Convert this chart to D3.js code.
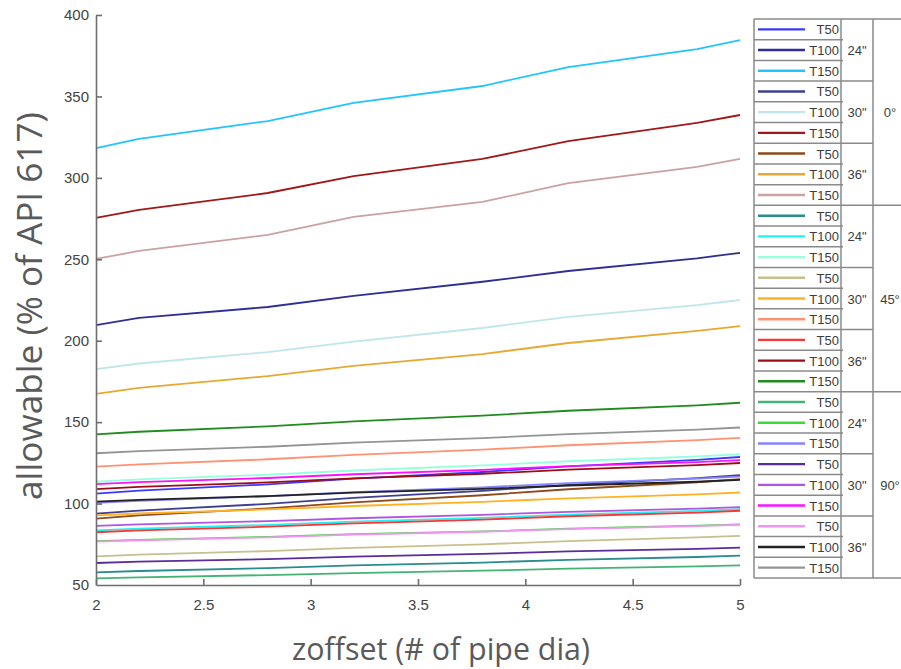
<!DOCTYPE html>
<html>
<head>
<meta charset="utf-8">
<script src="https://cdn.jsdelivr.net/npm/d3@7"></script>
<style>
  html, body { margin: 0; padding: 0; background: #ffffff; }
  svg { display: block; }
</style>
</head>
<body>
<svg id="chart" width="901" height="669"></svg>
<script>
// Offset positions along the pipe (# of pipe diameters)
const xValues = [2, 2.2, 2.8, 3.2, 3.8, 4.2, 4.8, 5];
const xTicks = [2, 2.5, 3, 3.5, 4, 4.5, 5];
const yTicks = [50, 100, 150, 200, 250, 300, 350, 400];

const angles = ["0°", "45°", "90°"];
const diameters = ['24"', '30"', '36"'];
const thicknesses = ["T50", "T100", "T150"];

// Allowable load (% of API 617), rows ordered diameter-major, thickness-minor
const values0 = [
  [106.1, 107.9, 111.8, 115.3, 119.4, 122.9, 126.8, 128.6],
  [209.6, 214.0, 220.7, 227.5, 236.2, 242.8, 250.6, 254.0],
  [318.3, 323.9, 334.9, 346.0, 356.4, 368.0, 379.0, 384.6],
  [93.8, 95.7, 99.8, 103.5, 107.8, 111.5, 115.6, 117.5],
  [182.6, 186.0, 193.0, 199.5, 207.8, 214.6, 221.9, 225.0],
  [275.4, 280.3, 290.7, 301.1, 311.6, 322.6, 333.7, 338.6],
  [90.8, 92.7, 97.0, 100.7, 105.1, 108.8, 113.1, 115.0],
  [167.3, 171.0, 178.3, 184.5, 191.8, 198.6, 206.0, 209.0],
  [250.2, 255.1, 265.0, 276.0, 285.2, 296.8, 306.7, 311.6]
];
const values45 = [
  [57.8, 58.6, 60.4, 62.0, 63.8, 65.4, 67.2, 68.0],
  [83.6, 84.6, 86.9, 88.9, 91.2, 93.2, 95.5, 96.5],
  [113.4, 114.8, 117.7, 120.3, 123.4, 126.0, 128.9, 130.3],
  [67.6, 68.6, 70.8, 72.8, 75.0, 77.0, 79.2, 80.2],
  [92.8, 93.9, 96.4, 98.5, 101.1, 103.2, 105.7, 106.8],
  [122.7, 124.1, 127.2, 129.9, 133.1, 135.8, 138.9, 140.3],
  [82.4, 83.5, 85.8, 87.8, 90.2, 92.2, 94.5, 95.6],
  [108.9, 110.2, 113.0, 115.5, 118.3, 120.8, 123.6, 124.9],
  [142.5, 144.1, 147.4, 150.5, 154.0, 157.0, 160.3, 161.9]
];
const values90 = [
  [54.1, 54.7, 56.1, 57.3, 58.8, 60.0, 61.4, 62.0],
  [76.9, 77.7, 79.6, 81.2, 82.9, 84.6, 86.4, 87.2],
  [100.4, 101.7, 104.5, 107.0, 110.0, 112.5, 115.3, 116.6],
  [63.5, 64.3, 65.9, 67.4, 69.1, 70.6, 72.2, 73.0],
  [86.3, 87.2, 89.2, 91.0, 93.1, 94.9, 96.9, 97.8],
  [112.0, 113.2, 115.7, 118.0, 120.7, 123.0, 125.5, 126.7],
  [76.6, 77.4, 79.3, 80.9, 82.7, 84.3, 86.2, 87.0],
  [101.2, 102.3, 104.6, 106.7, 109.0, 111.1, 113.4, 114.5],
  [130.9, 132.2, 134.9, 137.4, 140.2, 142.6, 145.4, 146.7]
];

const colors0 = ["#3a3aff", "#2e2e96", "#22c4ff", "#3f3f92", "#bfe6ea", "#a01818", "#8e4a1c", "#e8a832", "#caa2a2"];
const colors45 = ["#2a8c8c", "#22f2f2", "#96ffdc", "#c8c08c", "#ffb224", "#ff9272", "#ff3434", "#9c0c16", "#1e8c1e"];
const colors90 = ["#44b474", "#3ada3a", "#8484ff", "#5a2c9c", "#b254e2", "#ff10ff", "#f494f4", "#222222", "#949494"];

// Assemble one record per curve, in legend order
const series = [];
[values0, values45, values90].forEach((vals, a) => {
  const cols = [colors0, colors45, colors90][a];
  vals.forEach((row, i) => {
    series.push({
      angle: angles[a],
      diameter: diameters[Math.floor(i / 3)],
      thickness: thicknesses[i % 3],
      color: cols[i],
      points: row.map((v, k) => ({ x: xValues[k], y: v }))
    });
  });
});

const svg = d3.select("#chart");
const plot = { left: 96, right: 740, top: 15, bottom: 585 };

const x = d3.scaleLinear().domain([2, 5]).range([plot.left, plot.right]);
const y = d3.scaleLinear().domain([50, 400]).range([plot.bottom, plot.top]);

const axisColor = "#6e6e6e";
const tickTextColor = "#444444";

// Curves
const line = d3.line().x(d => x(d.x)).y(d => y(d.y));
svg.append("g")
  .selectAll("path")
  .data(series)
  .join("path")
  .attr("d", d => line(d.points))
  .attr("fill", "none")
  .attr("stroke", d => d.color)
  .attr("stroke-width", 1.8)
  .attr("stroke-linejoin", "round");

// Axes with inward ticks
const xAxis = svg.append("g")
  .attr("transform", `translate(0,${plot.bottom})`)
  .call(d3.axisBottom(x).tickValues(xTicks).tickFormat(d3.format("")).tickSizeInner(-6).tickSizeOuter(0).tickPadding(14));
const yAxis = svg.append("g")
  .attr("transform", `translate(${plot.left},0)`)
  .call(d3.axisLeft(y).tickValues(yTicks).tickSizeInner(-6).tickSizeOuter(0).tickPadding(7));

[xAxis, yAxis].forEach(g => {
  g.select(".domain").attr("stroke", axisColor).attr("stroke-width", 1.6);
  g.selectAll(".tick line").attr("stroke", axisColor).attr("stroke-width", 1.6);
  g.selectAll(".tick text")
    .attr("fill", tickTextColor)
    .style("font-family", "'Liberation Sans', Arial, sans-serif")
    .style("font-size", "15px");
});
// Hide the inward tick drawn on the corners so the frame stays clean
yAxis.selectAll(".tick").filter(d => d === 50).select("line").remove();

// Axis titles, sized to their measured spans
function fitTitle(sel, targetWidth) {
  sel.style("font-size", "100px");
  const w = sel.node().getComputedTextLength();
  sel.style("font-size", (100 * targetWidth / w).toFixed(2) + "px");
}
const xTitle = svg.append("text")
  .attr("x", 441)
  .attr("y", 660)
  .attr("text-anchor", "middle")
  .attr("fill", "#5a5a5a")
  .style("font-family", "'Open Sans', sans-serif")
  .text("zoffset (# of pipe dia)");
fitTitle(xTitle, 298);

const yTitle = svg.append("text")
  .attr("transform", "translate(42,306) rotate(-90)")
  .attr("text-anchor", "middle")
  .attr("fill", "#5a5a5a")
  .style("font-family", "'Open Sans', sans-serif")
  .text("allowable (% of API 617)");
fitTitle(yTitle, 388);

// Legend table: sample | thickness, diameter group, angle group
const lg = { left: 754, col1: 841, col2: 873, right: 909, top: 19, bottom: 578 };
const rowH = (lg.bottom - lg.top) / series.length;
const border = "#8a8a8a";
const legend = svg.append("g");

series.forEach((s, i) => {
  const cy = lg.top + rowH * (i + 0.5);
  legend.append("line")
    .attr("x1", 758).attr("x2", 805)
    .attr("y1", cy).attr("y2", cy)
    .attr("stroke", s.color).attr("stroke-width", 2.4);
  legend.append("text")
    .attr("x", 839).attr("y", cy + 5)
    .attr("text-anchor", "end")
    .attr("fill", "#3c3c3c")
    .style("font-family", "'Liberation Sans', Arial, sans-serif")
    .style("font-size", "13px")
    .text(s.thickness);
});

// Horizontal rules: every row in the first column, every third row across
// the diameter column, every ninth row across the whole table
d3.range(series.length + 1).forEach(i => {
  const yy = lg.top + rowH * i;
  let x2 = lg.col1 + 2;
  if (i % 3 === 0) x2 = lg.col2;
  if (i % 9 === 0) x2 = lg.right;
  legend.append("line")
    .attr("x1", lg.left).attr("x2", x2)
    .attr("y1", yy).attr("y2", yy)
    .attr("stroke", border).attr("stroke-width", 1.5);
});
[lg.left, lg.col1, lg.col2].forEach(xx => {
  legend.append("line")
    .attr("x1", xx).attr("x2", xx)
    .attr("y1", lg.top).attr("y2", lg.bottom)
    .attr("stroke", border).attr("stroke-width", 1.5);
});

// Group labels
const groupFont = "'Liberation Sans', Arial, sans-serif";
d3.range(9).forEach(g => {
  const cy = lg.top + rowH * (g * 3 + 1.5);
  legend.append("text")
    .attr("x", 857).attr("y", cy + 5)
    .attr("text-anchor", "middle")
    .attr("fill", "#3c3c3c")
    .style("font-family", groupFont)
    .style("font-size", "13px")
    .text(diameters[g % 3]);
});
angles.forEach((a, g) => {
  const cy = lg.top + rowH * (g * 9 + 4.5);
  legend.append("text")
    .attr("x", 890).attr("y", cy + 5)
    .attr("text-anchor", "middle")
    .attr("fill", "#3c3c3c")
    .style("font-family", groupFont)
    .style("font-size", "13px")
    .text(a);
});
</script>
</body>
</html>
